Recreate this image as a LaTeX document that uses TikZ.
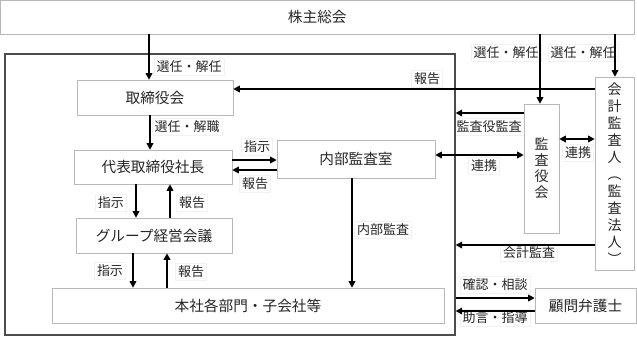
\documentclass[tikz,border=0pt]{standalone}
\usepackage{fontspec}
\setmainfont{Noto Sans CJK JP}
\usetikzlibrary{arrows.meta}
\begin{document}
\begin{tikzpicture}[x=0.75pt,y=-0.75pt,
  box/.style={draw=black!28, fill=white, inner sep=0pt, text=black!85, font=\fontsize{11pt}{13pt}\selectfont},
  vbox/.style={box, align=center, font=\fontsize{10.5pt}{12.75pt}\selectfont},
  lbl/.style={draw=black!5, fill=white, inner sep=2pt, text=black!85, font=\fontsize{9.75pt}{11pt}\selectfont},
  frm/.style={draw=black!70, line width=0.8pt, inner sep=0pt},
  arr/.style={-{Triangle[length=5pt,width=5pt]}, line width=1.1pt, black},
  darr/.style={{Triangle[length=5pt,width=5pt]}-{Triangle[length=5pt,width=5pt]}, line width=1.1pt, black}]
\useasboundingbox (0,0) rectangle (637,337);
% labels (behind)
\node[lbl] (l1) at (189,67) {選任・解任};
\node[lbl] (l2) at (187,127) {選任・解職};
\node[lbl] (l3) at (257,147) {指示};
\node[lbl] (l4) at (255,184) {報告};
\node[lbl] (l5) at (111,203) {指示};
\node[lbl] (l6) at (192,203) {報告};
\node[lbl] (l7) at (110,271) {指示};
\node[lbl] (l8) at (191,272) {報告};
\node[lbl] (l9) at (383,230) {内部監査};
\node[lbl] (l10) at (484,166) {連携};
\node[lbl] (l11) at (506,53) {選任・解任};
\node[lbl] (l12) at (583,53) {選任・解任};
\node[lbl] (l13) at (427,79) {報告};
\node[lbl] (l14) at (489,127) {監査役監査};
\node[lbl] (l15) at (578,153) {連携};
\node[lbl] (l16) at (529,253) {会計監査};
\node[lbl] (l17) at (495,285) {確認・相談};
\node[lbl] (l18) at (495,318) {助言・指導};
% frame and boxes
\node[frm, minimum width=337.5pt, minimum height=210.75pt] (frame) at (230,194.5) {};
\node[box, minimum width=475pt, minimum height=25.5pt] (kabu) at (317.25,17) {株主総会};
\node[box, minimum width=117pt, minimum height=26.25pt] (tori) at (155,97.5) {取締役会};
\node[box, minimum width=118.5pt, minimum height=25.5pt] (dai) at (153,167) {代表取締役社長};
\node[box, minimum width=117pt, minimum height=26.25pt] (grp) at (154,235.5) {グループ経営会議};
\node[box, minimum width=294pt, minimum height=26.25pt] (hon) at (248,305.5) {本社各部門・子会社等};
\node[box, minimum width=118.5pt, minimum height=28.5pt] (nai) at (356,159) {内部監査室};
\node[vbox, font=\fontsize{10.5pt}{12pt}\selectfont, minimum width=26.25pt, minimum height=96.75pt] (kan) at (541.5,168.5) {監\\査\\役\\会};
\node[vbox, minimum width=29.25pt, minimum height=144.75pt] (kai) at (614.5,173.5) {会\\計\\監\\査\\人\\︵\\監\\査\\法\\人\\︶};
\node[box, minimum width=75.75pt, minimum height=26.25pt] (ben) at (585.5,305.5) {顧問弁護士};
% coordinates
\coordinate (xa) at (149,0);
\coordinate (xb) at (150,0);
\coordinate (xc) at (136,0);
\coordinate (xd) at (170,0);
\coordinate (xe) at (133,0);
\coordinate (xf) at (167,0);
\coordinate (xg) at (352,0);
\coordinate (xh) at (540,0);
\coordinate (xi) at (615,0);
\coordinate (ya) at (0,160);
\coordinate (yb) at (0,170);
\coordinate (yc) at (0,155);
\coordinate (yd) at (0,89);
\coordinate (ye) at (0,113);
\coordinate (yf) at (0,139);
\coordinate (yg) at (0,245);
\coordinate (yh) at (0,298);
\coordinate (yi) at (0,311);
% arrows
\draw[arr] (kabu.south -| xa) -- (tori.north -| xa);
\draw[arr] (tori.south -| xb) -- (dai.north -| xb);
\draw[arr] (dai.east |- ya) -- (nai.west |- ya);
\draw[arr] (nai.west |- yb) -- (dai.east |- yb);
\draw[arr] (dai.south -| xc) -- (grp.north -| xc);
\draw[arr] (grp.north -| xd) -- (dai.south -| xd);
\draw[arr] (grp.south -| xe) -- (hon.north -| xe);
\draw[arr] (hon.north -| xf) -- (grp.south -| xf);
\draw[arr] (nai.south -| xg) -- (hon.north -| xg);
\draw[darr] (nai.east |- yc) -- (kan.west |- yc);
\draw[arr] (kabu.south -| xh) -- (kan.north -| xh);
\draw[arr] (kabu.south -| xi) -- (kai.north -| xi);
\draw[arr] (kai.west |- yd) -- (tori.east |- yd);
\draw[arr] (kan.west |- ye) -- (frame.east |- ye);
\draw[darr] (kan.east |- yf) -- (kai.west |- yf);
\draw[arr] (kai.west |- yg) -- (frame.east |- yg);
\draw[arr] (frame.east |- yh) -- (ben.west |- yh);
\draw[arr] (ben.west |- yi) -- (frame.east |- yi);
\end{tikzpicture}
\end{document}
